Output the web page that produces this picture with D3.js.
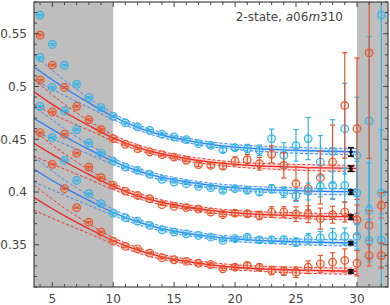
<!DOCTYPE html>
<html>
<head>
<meta charset="utf-8">
<script src="https://cdn.jsdelivr.net/npm/d3@7"></script>
<style>
body { margin: 0; background: #fff; }
svg { display: block; }
</style>
</head>
<body>
<script>
// time slices
const tSlices = [4, 5, 6, 7, 8, 9, 10, 11, 12, 13, 14, 15, 16, 17, 18, 19, 20, 21, 22, 23, 24, 25, 26, 27, 28, 29, 30, 31, 32];

// data points, top to bottom (blue / red alternate)
const blue1 = [0.5676, 0.5398, 0.5201, 0.5021, 0.4895, 0.4800, 0.4717, 0.4654, 0.4616, 0.4584, 0.4547, 0.4521, 0.4496, 0.4458, 0.4442, 0.4401, 0.4420, 0.4411, 0.4395, 0.4506, 0.4347, 0.4442, 0.4506, 0.4284, 0.4385, 0.4600, 0.4347, 0.4673, 0.5676];
const blue1Err = [0.0008, 0.0008, 0.0008, 0.0008, 0.0008, 0.0008, 0.0008, 0.0008, 0.0008, 0.0008, 0.0008, 0.001, 0.0012, 0.0015, 0.002, 0.0025, 0.003, 0.004, 0.005, 0.009, 0.012, 0.015, 0.02, 0.025, 0.03, 0.043, 0.055, 0.08, 0.3];

const red1 = [0.5486, 0.5201, 0.4990, 0.4812, 0.4686, 0.4591, 0.4506, 0.4452, 0.4411, 0.4379, 0.4354, 0.4331, 0.4300, 0.4259, 0.4252, 0.4246, 0.4293, 0.4306, 0.4268, 0.4357, 0.4252, 0.4079, 0.4031, 0.4136, 0.4284, 0.4820, 0.4600, 0.5318, null];
const red1Err = [0.0008, 0.0008, 0.0008, 0.0008, 0.0008, 0.0008, 0.0008, 0.0008, 0.0008, 0.0008, 0.0008, 0.001, 0.0013, 0.0017, 0.0022, 0.003, 0.004, 0.005, 0.006, 0.008, 0.012, 0.016, 0.02, 0.025, 0.035, 0.05, 0.067, 0.1, null];

const blue2 = [0.5274, 0.4990, 0.4768, 0.4591, 0.4464, 0.4369, 0.4293, 0.4236, 0.4205, 0.4167, 0.4120, 0.4094, 0.4079, 0.4053, 0.4041, 0.4015, 0.4031, 0.4015, 0.3999, 0.4031, 0.3999, 0.3968, 0.4005, 0.4053, 0.4063, 0.4063, 0.3990, 0.3825, 0.3990];
const blue2Err = [0.0007, 0.0007, 0.0007, 0.0007, 0.0007, 0.0007, 0.0007, 0.0007, 0.0007, 0.0007, 0.0007, 0.0007, 0.0007, 0.001, 0.0013, 0.0017, 0.002, 0.0025, 0.003, 0.004, 0.005, 0.006, 0.008, 0.01, 0.013, 0.016, 0.03, 0.045, 0.06];

const red2 = [0.5059, 0.4758, 0.4547, 0.4369, 0.4236, 0.4136, 0.4063, 0.4009, 0.3967, 0.3936, 0.3880, 0.3863, 0.3852, 0.3837, 0.3810, 0.3787, 0.3800, 0.3794, 0.3778, 0.3810, 0.3810, 0.3790, 0.3790, 0.3747, 0.3785, 0.3810, 0.3737, 0.3683, 0.3873];
const red2Err = [0.0007, 0.0007, 0.0007, 0.0007, 0.0007, 0.0007, 0.0007, 0.0007, 0.0007, 0.0007, 0.0007, 0.0007, 0.0007, 0.001, 0.0013, 0.0018, 0.0025, 0.003, 0.004, 0.005, 0.005, 0.007, 0.008, 0.01, 0.008, 0.0095, 0.014, 0.014, 0.012];

const blue3 = [0.4812, 0.4515, 0.4300, 0.4110, 0.3984, 0.3889, 0.3800, 0.3756, 0.3724, 0.3683, 0.3642, 0.3620, 0.3604, 0.3588, 0.3572, 0.3541, 0.3557, 0.3572, 0.3547, 0.3547, 0.3547, 0.3525, 0.3557, 0.3566, 0.3585, 0.3579, 0.3579, 0.3541, 0.3541];
const blue3Err = [0.0006, 0.0006, 0.0006, 0.0006, 0.0006, 0.0006, 0.0006, 0.0006, 0.0006, 0.0006, 0.0006, 0.0006, 0.0006, 0.0008, 0.001, 0.0013, 0.0016, 0.002, 0.0025, 0.003, 0.0035, 0.004, 0.005, 0.006, 0.007, 0.008, 0.012, 0.02, 0.025];

const red3 = [0.4563, 0.4262, 0.4031, 0.3851, 0.3714, 0.3620, 0.3534, 0.3484, 0.3462, 0.3420, 0.3377, 0.3358, 0.3342, 0.3325, 0.3313, 0.3272, 0.3287, 0.3304, 0.3287, 0.3256, 0.3250, 0.3240, 0.3287, 0.3320, 0.3335, 0.3351, 0.3325, 0.3398, 0.3398];
const red3Err = [0.0006, 0.0006, 0.0006, 0.0006, 0.0006, 0.0006, 0.0006, 0.0006, 0.0006, 0.0006, 0.0006, 0.0006, 0.0006, 0.0008, 0.001, 0.0015, 0.002, 0.0025, 0.003, 0.004, 0.004, 0.005, 0.006, 0.008, 0.009, 0.011, 0.012, 0.01, 0.012];

// fit curves (read at a few t values) and their band half widths
const fitT = [3.5, 5, 6.5, 8, 10, 12, 14, 16, 18, 20, 23, 26, 30];
const fitBlue1 = [0.5185, 0.5063, 0.4950, 0.4845, 0.4715, 0.4612, 0.4540, 0.4490, 0.4452, 0.4426, 0.4404, 0.4391, 0.4382];
const fitRed1 = [0.4950, 0.4830, 0.4725, 0.4630, 0.4512, 0.4423, 0.4360, 0.4317, 0.4284, 0.4261, 0.4242, 0.4231, 0.4223];
const fitBlue2 = [0.4699, 0.4593, 0.4495, 0.4404, 0.4290, 0.4201, 0.4138, 0.4095, 0.4062, 0.4039, 0.4020, 0.4009, 0.4001];
const fitRed2 = [0.4462, 0.4356, 0.4258, 0.4167, 0.4053, 0.3964, 0.3901, 0.3858, 0.3825, 0.3802, 0.3783, 0.3772, 0.3764];
const fitBlue3 = [0.4215, 0.4109, 0.4011, 0.3920, 0.3806, 0.3717, 0.3654, 0.3611, 0.3578, 0.3555, 0.3536, 0.3525, 0.3517];
const fitRed3 = [0.3947, 0.3841, 0.3743, 0.3652, 0.3538, 0.3449, 0.3386, 0.3343, 0.3310, 0.3287, 0.3268, 0.3257, 0.3249];
const bandW = [0.012, 0.009, 0.0065, 0.0045, 0.003, 0.0026, 0.0024, 0.0023, 0.0023, 0.0024, 0.0026, 0.0028, 0.003];

// fit results (black) drawn at t = 29.5
const plateauT = 29.5;
const plateau = [0.4379, 0.4221, 0.3999, 0.3762, 0.3515, 0.3247];
const plateauErr = [0.004, 0.0025, 0.002, 0.002, 0.0015, 0.0015];

// shaded (excluded) ranges
const shadeRanges = [[3.5, 10], [30, 32.55]];

const xTicks = [5, 10, 15, 20, 25, 30];
const yTicks = [0.35, 0.4, 0.45, 0.5, 0.55];
const yTickLabels = ["0.35", "0.4", "0.45", "0.5", "0.55"];

const colors = {
    blue: { point: "#33b3e6", line: "#2a7ef2" },
    red: { point: "#e8552c", line: "#f0201c" }
};

const series = [
    { kind: "blue", vals: blue1, errs: blue1Err, fit: fitBlue1 },
    { kind: "red", vals: red1, errs: red1Err, fit: fitRed1 },
    { kind: "blue", vals: blue2, errs: blue2Err, fit: fitBlue2 },
    { kind: "red", vals: red2, errs: red2Err, fit: fitRed2 },
    { kind: "blue", vals: blue3, errs: blue3Err, fit: fitBlue3 },
    { kind: "red", vals: red3, errs: red3Err, fit: fitRed3 }
];

const width = 390, height = 305;
const margin = { left: 34, right: 2, top: 2, bottom: 18 };
const fontFamily = "'DejaVu Sans', sans-serif";

const svg = d3.select("body").append("svg")
    .attr("width", width)
    .attr("height", height);

const x = d3.scaleLinear().domain([3.5, 32.55]).range([margin.left, width - margin.right]);
const y = d3.scaleLinear().domain([0.31, 0.58]).range([height - margin.bottom, margin.top]);

svg.append("clipPath").attr("id", "plot-clip")
    .append("rect")
    .attr("x", margin.left).attr("y", margin.top)
    .attr("width", width - margin.left - margin.right)
    .attr("height", height - margin.top - margin.bottom);

const plot = svg.append("g").attr("clip-path", "url(#plot-clip)");

// grey shaded regions
plot.selectAll(".shade")
    .data(shadeRanges)
    .enter()
    .append("rect")
    .attr("class", "shade")
    .attr("x", d => x(d[0]))
    .attr("width", d => x(d[1]) - x(d[0]))
    .attr("y", margin.top)
    .attr("height", height - margin.top - margin.bottom)
    .attr("fill", "#bebebe");

const line = d3.line().curve(d3.curveMonotoneX);

series.forEach(s => {
    const c = colors[s.kind];
    const pts = fitT.map((t, i) => ({ t: t, v: s.fit[i], w: bandW[i] }));
    const inFit = pts.filter(p => p.t >= 10);

    // light error band over the fit range
    plot.append("path")
        .attr("d", d3.area().curve(d3.curveMonotoneX)
            .x(p => x(p.t)).y0(p => y(p.v - p.w)).y1(p => y(p.v + p.w))(inFit))
        .attr("fill", c.line)
        .attr("fill-opacity", 0.18);

    // dashed band edges
    [1, -1].forEach(sign => {
        plot.append("path")
            .attr("d", line(pts.map(p => [x(p.t), y(p.v + sign * p.w)])))
            .attr("fill", "none")
            .attr("stroke", c.line)
            .attr("stroke-width", 0.9)
            .attr("stroke-dasharray", "3,2");
    });

    // central fit
    plot.append("path")
        .attr("d", line(pts.map(p => [x(p.t), y(p.v)])))
        .attr("fill", "none")
        .attr("stroke", c.line)
        .attr("stroke-width", 1.3);
});

// data points with error bars
series.forEach(s => {
    const c = colors[s.kind];
    const data = tSlices.map((t, i) => ({ t: t, v: s.vals[i], e: s.errs[i] }))
        .filter(d => d.v !== null);

    const g = plot.append("g")
        .attr("stroke", c.point)
        .attr("stroke-width", 1.2);

    g.selectAll(".bar").data(data).enter().append("line")
        .attr("x1", d => x(d.t)).attr("x2", d => x(d.t))
        .attr("y1", d => y(d.v - d.e)).attr("y2", d => y(d.v + d.e));

    [1, -1].forEach(sign => {
        g.selectAll(".cap" + sign).data(data).enter().append("line")
            .attr("x1", d => x(d.t) - 2.6).attr("x2", d => x(d.t) + 2.6)
            .attr("y1", d => y(d.v + sign * d.e)).attr("y2", d => y(d.v + sign * d.e));
    });

    g.selectAll("circle").data(data).enter().append("circle")
        .attr("cx", d => x(d.t))
        .attr("cy", d => y(d.v))
        .attr("r", 3.8)
        .attr("fill", c.point)
        .attr("fill-opacity", 0.15);
});

// black fit results
const pg = plot.append("g").attr("stroke", "#111").attr("stroke-width", 1.8);
plateau.forEach((v, i) => {
    const e = plateauErr[i];
    pg.append("line")
        .attr("x1", x(plateauT)).attr("x2", x(plateauT))
        .attr("y1", y(v - e)).attr("y2", y(v + e));
    [1, -1].forEach(sign => {
        pg.append("line")
            .attr("x1", x(plateauT) - 3).attr("x2", x(plateauT) + 3)
            .attr("y1", y(v + sign * e)).attr("y2", y(v + sign * e));
    });
    pg.append("line")
        .attr("x1", x(plateauT) - 2).attr("x2", x(plateauT) + 2)
        .attr("y1", y(v)).attr("y2", y(v));
});

// frame
svg.append("rect")
    .attr("x", margin.left).attr("y", margin.top)
    .attr("width", width - margin.left - margin.right)
    .attr("height", height - margin.top - margin.bottom)
    .attr("fill", "none")
    .attr("stroke", "#444")
    .attr("stroke-width", 1.2);

// ticks on all four sides, pointing inwards
const xMinor = d3.range(4, 33);
const yMinor = d3.range(31, 59).map(k => k / 100);
const tickG = svg.append("g").attr("stroke", "#444").attr("stroke-width", 1);
const plotTop = margin.top, plotBottom = height - margin.bottom;
const plotLeft = margin.left, plotRight = width - margin.right;

xMinor.forEach(t => {
    const len = xTicks.includes(t) ? 5 : 3;
    tickG.append("line").attr("x1", x(t)).attr("x2", x(t)).attr("y1", plotBottom).attr("y2", plotBottom - len);
    tickG.append("line").attr("x1", x(t)).attr("x2", x(t)).attr("y1", plotTop).attr("y2", plotTop + len);
});
yMinor.forEach(v => {
    const major = yTicks.some(m => Math.abs(m - v) < 1e-6);
    const len = major ? 5 : 3;
    tickG.append("line").attr("y1", y(v)).attr("y2", y(v)).attr("x1", plotLeft).attr("x2", plotLeft + len);
    tickG.append("line").attr("y1", y(v)).attr("y2", y(v)).attr("x1", plotRight).attr("x2", plotRight - len);
});

// tick labels
svg.selectAll(".xlab").data(xTicks).enter().append("text")
    .attr("x", d => x(d))
    .attr("y", height - 2)
    .attr("text-anchor", "middle")
    .attr("font-family", fontFamily)
    .attr("font-size", 12)
    .attr("fill", "#444")
    .text(d => d);

svg.selectAll(".ylab").data(yTicks).enter().append("text")
    .attr("x", margin.left - 7)
    .attr("y", d => y(d))
    .attr("dy", "0.36em")
    .attr("text-anchor", "end")
    .attr("font-family", fontFamily)
    .attr("font-size", 12)
    .attr("fill", "#444")
    .text((d, i) => yTickLabels[i]);

// label
const label = svg.append("text")
    .attr("x", 343)
    .attr("y", 21)
    .attr("text-anchor", "end")
    .attr("font-family", fontFamily)
    .attr("font-size", 12)
    .attr("fill", "#444");
label.append("tspan").text("2-state, ");
label.append("tspan").attr("font-style", "italic").text("a");
label.append("tspan").text("06");
label.append("tspan").attr("font-style", "italic").text("m");
label.append("tspan").text("310");
</script>
</body>
</html>
